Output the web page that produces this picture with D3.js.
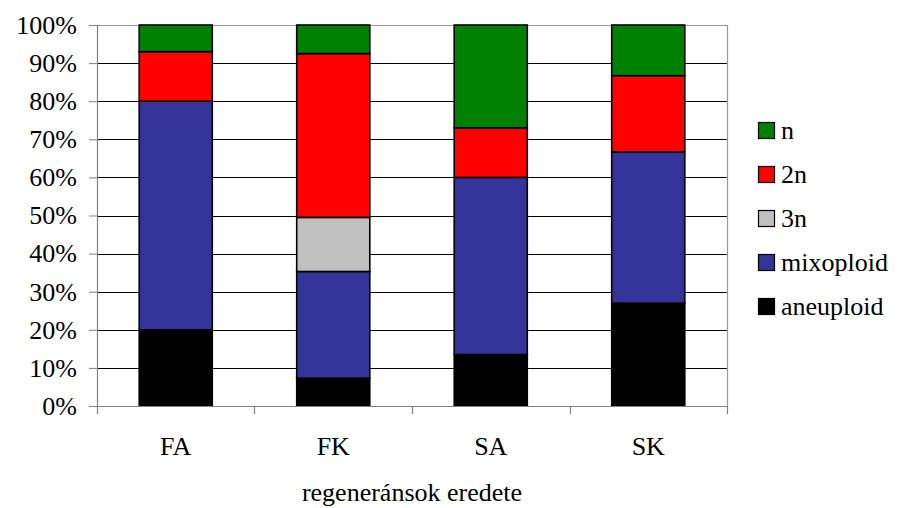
<!DOCTYPE html>
<html>
<head>
<meta charset="utf-8">
<script src="https://cdn.jsdelivr.net/npm/d3@7/dist/d3.min.js"></script>
<style>
  html, body { margin: 0; padding: 0; background: #fff; }
  svg { display: block; }
</style>
</head>
<body>
<svg id="chart" width="897" height="508"></svg>
<script>
// Origin of regenerants and their ploidy composition (percent of plants)
const categories = ["FA", "FK", "SA", "SK"];
const aneuploid  = [20.0, 7.3, 13.5, 27.0];
const mixoploid  = [60.0, 28.0, 46.5, 39.7];
const triploid   = [0.0, 14.2, 0.0, 0.0];   // 3n
const diploid    = [13.0, 43.0, 13.0, 20.0]; // 2n
const haploid    = [7.0, 7.5, 27.0, 13.3];  // n
const yTicks     = [0, 10, 20, 30, 40, 50, 60, 70, 80, 90, 100];
const xTitle     = "regeneránsok eredete";

// stacking order, bottom to top
const seriesKeys   = ["aneuploid", "mixoploid", "3n", "2n", "n"];
const seriesValues = { "aneuploid": aneuploid, "mixoploid": mixoploid, "3n": triploid, "2n": diploid, "n": haploid };
const colors = { "n": "#008000", "2n": "#FF0000", "3n": "#C0C0C0", "mixoploid": "#333399", "aneuploid": "#000000" };
const legendOrder = ["n", "2n", "3n", "mixoploid", "aneuploid"];

const FONT = "Liberation Serif, Times New Roman, serif";
const FONT_SIZE = 26;

const rows = categories.map((c, i) => {
  const r = { category: c };
  seriesKeys.forEach(k => { r[k] = seriesValues[k][i]; });
  return r;
});

const svg = d3.select("#chart")
  .attr("font-family", FONT)
  .attr("font-size", FONT_SIZE);
const plot = { left: 97, right: 727, top: 25, bottom: 406 };

const x = d3.scaleBand()
  .domain(categories)
  .range([plot.left, plot.right])
  .paddingInner(0.536)
  .paddingOuter(0.268);

const y = d3.scaleLinear().domain([0, 100]).range([plot.bottom, plot.top]);

// horizontal gridlines
svg.append("g")
  .selectAll("line")
  .data(yTicks.filter(t => t > 0 && t < 100))
  .join("line")
  .attr("x1", plot.left).attr("x2", plot.right)
  .attr("y1", d => Math.round(y(d)) + 0.5).attr("y2", d => Math.round(y(d)) + 0.5)
  .attr("stroke", "#000").attr("stroke-width", 1);

// plot-area frame (top and right)
svg.append("path")
  .attr("d", `M${plot.left},${plot.top + 0.5}H${plot.right + 0.5}V${plot.bottom}`)
  .attr("fill", "none").attr("stroke", "#999").attr("stroke-width", 1.2);

// stacked bars
const stack = d3.stack().keys(seriesKeys)(rows);
svg.append("g")
  .selectAll("g")
  .data(stack)
  .join("g")
  .attr("fill", d => colors[d.key])
  .selectAll("rect")
  .data(d => d.filter(s => s[1] - s[0] > 0))
  .join("rect")
  .attr("x", d => x(d.data.category))
  .attr("width", x.bandwidth())
  .attr("y", d => y(d[1]))
  .attr("height", d => y(d[0]) - y(d[1]))
  .attr("stroke", "#000")
  .attr("stroke-width", 1.6);

// y axis
const yAxis = d3.axisLeft(y)
  .tickValues(yTicks)
  .tickFormat(d => d + "%")
  .tickSize(8)
  .tickPadding(12);
const gy = svg.append("g").attr("transform", `translate(${plot.left},0)`).call(yAxis)
  .attr("font-family", FONT)
  .attr("font-size", FONT_SIZE);
gy.select(".domain").attr("stroke", "#808080").attr("stroke-width", 1.2);
gy.selectAll(".tick line").attr("stroke", "#808080");
gy.selectAll(".tick text").attr("fill", "#000");

// x axis: category labels, tick marks at band boundaries
const gx = svg.append("g").attr("transform", `translate(0,${plot.bottom})`);
gx.append("line")
  .attr("x1", plot.left).attr("x2", plot.right)
  .attr("y1", 0.5).attr("y2", 0.5)
  .attr("stroke", "#808080").attr("stroke-width", 1.2);
const gap = x.step() - x.bandwidth();
const bounds = categories.map(c => x(c) - gap / 2).concat([x(categories[categories.length - 1]) + x.bandwidth() + gap / 2]);
gx.selectAll("line.tk")
  .data(bounds)
  .join("line")
  .attr("class", "tk")
  .attr("x1", d => Math.round(d) + 0.5).attr("x2", d => Math.round(d) + 0.5)
  .attr("y1", 0).attr("y2", 8)
  .attr("stroke", "#808080").attr("stroke-width", 1.2);
gx.selectAll("text.cat")
  .data(categories)
  .join("text")
  .attr("class", "cat")
  .attr("x", d => x(d) + x.bandwidth() / 2)
  .attr("y", 49)
  .attr("text-anchor", "middle")
  .text(d => d);

// x axis title
svg.append("text")
  .attr("x", (plot.left + plot.right) / 2)
  .attr("y", 501)
  .attr("text-anchor", "middle")
  .text(xTitle);

// legend
const legend = svg.append("g").attr("transform", "translate(758,122)");
const item = legend.selectAll("g")
  .data(legendOrder)
  .join("g")
  .attr("transform", (d, i) => `translate(0,${i * 44})`);
item.append("rect")
  .attr("x", 0.5).attr("y", 0.5)
  .attr("width", 16).attr("height", 16)
  .attr("fill", d => colors[d])
  .attr("stroke", "#000").attr("stroke-width", 1.2);
item.append("text")
  .attr("x", 23)
  .attr("y", 17)
  .text(d => d);
</script>
</body>
</html>
